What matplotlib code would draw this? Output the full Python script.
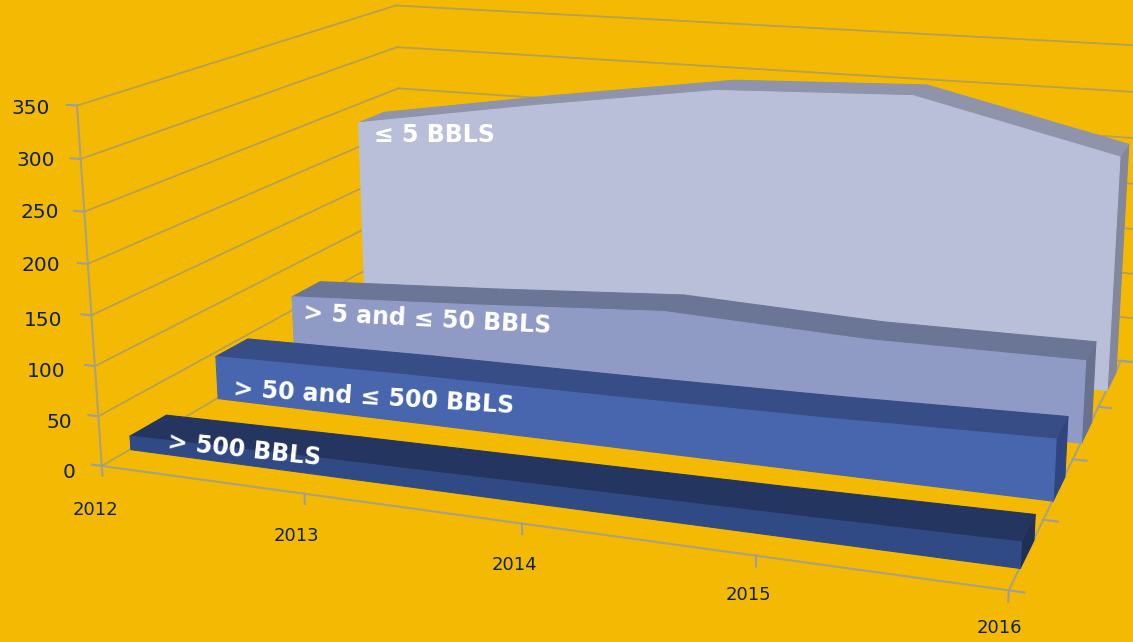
import numpy as np
import matplotlib
matplotlib.use('Agg')
import matplotlib.pyplot as plt
from mpl_toolkits.mplot3d.art3d import Poly3DCollection

W, H = 1133, 642
years = [2012, 2013, 2014, 2015, 2016]
depth_ticks = [0, 1, 2, 3, 4]
z_ticks = [0, 50, 100, 150, 200, 250, 300, 350]

v_500 = [14, 17, 19, 21, 24]
v_50 = [46, 50, 52, 55, 60]
v_5 = [66, 78, 92, 84, 85]
v_le5 = [229, 263, 294, 302, 252]

year_labels = [(95, 510), (296, 536), (514, 565), (748, 595), (999, 628)]
z_labels = [(76, 473), (72, 422), (65, 372), (62, 320), (60, 266), (59, 213), (55, 161), (50, 108)]

bg = '#f4ba03'
ink = '#0d2240'
grid_c = '#b4a056'
tick_c = '#9a9ea6'
plt.rcParams['font.family'] = ['DejaVu Sans']

fig = plt.figure(figsize=(W/100, H/100), dpi=100, facecolor=bg)

# camera fitted against the reference
scale, cx, cy = 3555.735, 646.805, 397.063
side = scale*0.185
ax = fig.add_axes([(cx - scale*0.095)/W, (cy - scale*0.095)/H, side/W, side/H], projection='3d', computed_zorder=False)
ax.set_xlim(2012, 2016, view_margin=0)
ax.set_ylim(0, 4, view_margin=0)
ax.set_zlim(0, 350, view_margin=0)
ax.set_axis_off()
ax.patch.set_alpha(0)
ax.view_init(elev=14.6902, azim=-70.2045, roll=0.0759)
ax.set_proj_type('persp', focal_length=0.6131)
aspect = np.array([2.4312, 1.8382, 0.9776])
ax.set_box_aspect(aspect, zoom=np.linalg.norm(aspect)/(1.8294640721620434*25/24))


def poly(verts, color, z):
    c = Poly3DCollection([verts], facecolor=color, edgecolor=color, linewidth=0.8, zorder=z, clip_on=False)
    ax.add_collection3d(c)


def line(xs, ys, zs, color=grid_c, lw=1.0, z=1):
    ax.plot(xs, ys, zs, color=color, lw=lw, zorder=z, clip_on=False)


for zt in z_ticks:
    line([2012, 2012], [0, 4], [zt, zt], lw=1.3)
    line([2012, 2016.25], [4, 4], [zt, zt], lw=1.3)
    line([2011.95, 2012], [0, 0], [zt, zt], tick_c, 1.5, 2)

# axis lines
line([2012, 2012], [0, 0], [0, 350], '#a8a27e', 1.5, 2)
line([2012, 2016], [0, 0], [0, 0], '#a8a27e', 1.5, 2)
line([2016, 2016], [0, 4], [0, 0], '#a8a27e', 1.5, 2)
for yr in years:
    line([yr, yr], [0, 0], [0, -10], tick_c, 1.5, 2)
for d in depth_ticks:
    line([2016, 2016.06], [d, d], [0, 0], tick_c, 1.5, 2)

layers = [
    (v_le5, 3.35, 3.75, '#b9bfd9', '#8f94aa', '#82879c', 10),
    (v_5, 2.3, 2.7, '#8f9ac5', '#6b7595', '#687290', 20),
    (v_50, 1.3, 1.7, '#4866ae', '#364d85', '#2f4580', 30),
    (v_500, 0.3, 0.7, '#2f4a85', '#24355f', '#1f3058', 40),
]
for vals, d0, d1, fc, tc, sc, z in layers:
    poly([(2016, d0, 0), (2016, d1, 0), (2016, d1, vals[-1]), (2016, d0, vals[-1])], sc, z)
    for i in range(4):
        poly([(years[i], d0, vals[i]), (years[i+1], d0, vals[i+1]), (years[i+1], d1, vals[i+1]), (years[i], d1, vals[i])], tc, z+1)
    front = [(years[0], d0, 0), (years[-1], d0, 0)] + [(years[i], d0, vals[i]) for i in range(4, -1, -1)]
    poly(front, fc, z+2)


def label(px, py, s, **kw):
    fig.text(px/W, 1 - py/H, s, **kw)


for yr, (px, py) in zip(years, year_labels):
    label(px, py, str(yr), color=ink, fontsize=13, ha='center', va='center')
for zt, (px, py) in zip(z_ticks, z_labels):
    label(px, py, str(zt), color=ink, fontsize=14.5, ha='right', va='center')

label(374, 135, '\u2264 5 BBLS', color='white', fontsize=17, fontweight='bold', va='center', ha='left')
label(303, 313, '> 5 and \u2264 50 BBLS', color='white', fontsize=17, fontweight='bold', va='center', ha='left', rotation=-3, rotation_mode='anchor')
label(233, 389, '> 50 and \u2264 500 BBLS', color='white', fontsize=17, fontweight='bold', va='center', ha='left', rotation=-3.5, rotation_mode='anchor')
label(168, 442, '> 500 BBLS', color='white', fontsize=17, fontweight='bold', va='center', ha='left', rotation=-6, rotation_mode='anchor')

fig.savefig('out.png', dpi=100, facecolor=fig.get_facecolor())
